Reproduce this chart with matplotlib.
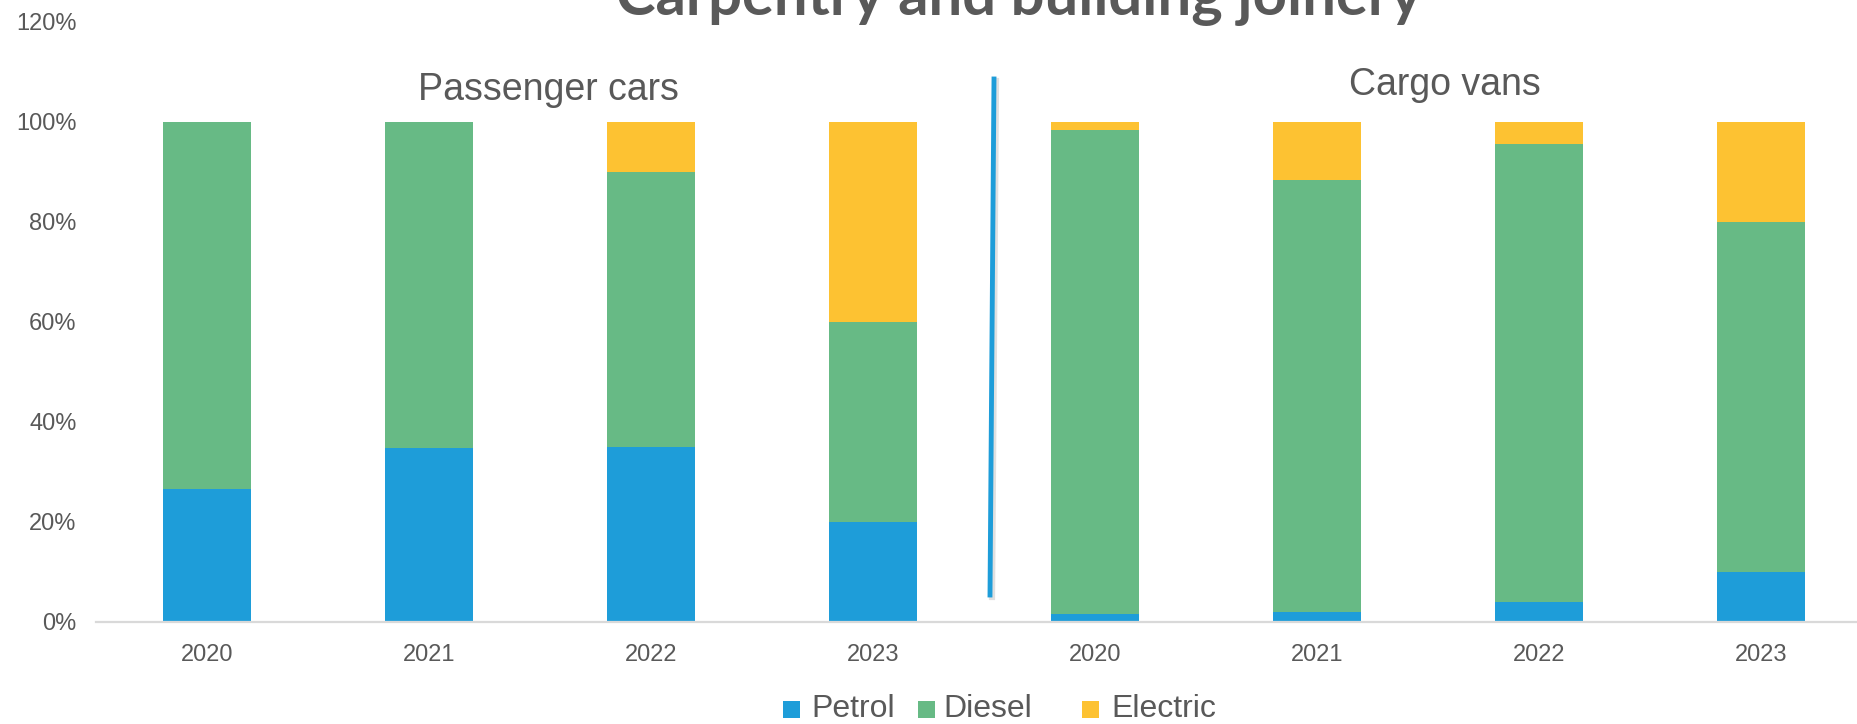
import matplotlib
matplotlib.use('Agg')
import matplotlib.pyplot as plt
import numpy as np
from matplotlib.patches import Rectangle
from matplotlib.lines import Line2D

plt.rcParams['font.family'] = ['Liberation Sans', 'DejaVu Sans']

# share of each fuel type, % of vehicles bought per year
years = ['2020', '2021', '2022', '2023']
petrol_cars = [26.6, 34.9, 35.0, 20.0]
diesel_cars = [73.4, 65.1, 55.0, 40.0]
electric_cars = [0.0, 0.0, 10.0, 40.0]
petrol_vans = [1.7, 2.0, 4.0, 10.0]
diesel_vans = [96.7, 86.4, 91.7, 70.0]
electric_vans = [1.6, 11.6, 4.3, 20.0]

groups = ['Passenger cars', 'Cargo vans']
fuels = ['Petrol', 'Diesel', 'Electric']
colors = ['#1E9DD9', '#67BA85', '#FDC232']
grey = '#595959'

W, H = 1857, 724
fig = plt.figure(figsize=(W / 100, H / 100), dpi=100)
ax = fig.add_axes([96 / W, 102 / H, 1776 / W, 600 / H])

labels = years + years
x = np.arange(len(labels))
petrol = np.array(petrol_cars + petrol_vans)
diesel = np.array(diesel_cars + diesel_vans)
electric = np.array(electric_cars + electric_vans)

ax.bar(x, petrol, width=0.4, color=colors[0])
ax.bar(x, diesel, width=0.4, bottom=petrol, color=colors[1])
ax.bar(x, electric, width=0.4, bottom=petrol + diesel, color=colors[2])

ax.set_xlim(-0.5, len(labels) - 0.5)
ax.set_ylim(0, 120)
ax.set_yticks(np.arange(0, 121, 20))
ax.set_yticklabels([f'{v}%' for v in range(0, 121, 20)])
ax.set_xticks(x)
ax.set_xticklabels(labels)
ax.tick_params(axis='both', length=0, labelsize=17, labelcolor=grey)
ax.tick_params(axis='x', pad=16)
ax.tick_params(axis='y', pad=14)
for s in ['top', 'right', 'left']:
    ax.spines[s].set_visible(False)
ax.spines['bottom'].set_color('#D9D9D9')
ax.spines['bottom'].set_linewidth(1.6)

# title, partly above the canvas
fig.text(1019 / W, 1 - 15 / H, 'Carpentry and building joinery', ha='center',
         va='baseline', fontsize=43, fontweight='bold', family='Lato', color=grey)

# group captions
fig.text(548 / W, 1 - 100 / H, groups[0], ha='center', va='baseline',
         fontsize=27, color=grey)
fig.text(1445 / W, 1 - 95 / H, groups[1], ha='center', va='baseline',
         fontsize=27, color=grey)

# divider between the two groups, with a soft shadow
fig.add_artist(Line2D([996 / W, 992 / W], [1 - 81 / H, 1 - 597 / H],
                      color='#000000', alpha=0.12, linewidth=4.5))
fig.add_artist(Line2D([994 / W, 990 / W], [1 - 79 / H, 1 - 595 / H],
                      color=colors[0], linewidth=3.5))

# legend along the bottom edge
sq_left = [783, 918, 1082]
txt_left = [811, 943, 1111]
for name, c, sx, tx in zip(fuels, colors, sq_left, txt_left):
    fig.add_artist(Rectangle((sx / W, 1 - 718 / H), 17 / W, 17 / H,
                             transform=fig.transFigure, color=c, lw=0))
    fig.text(tx / W, 1 - 717 / H, name, ha='left', va='baseline',
             fontsize=23, color=grey)

fig.savefig('out.png', dpi=100)
